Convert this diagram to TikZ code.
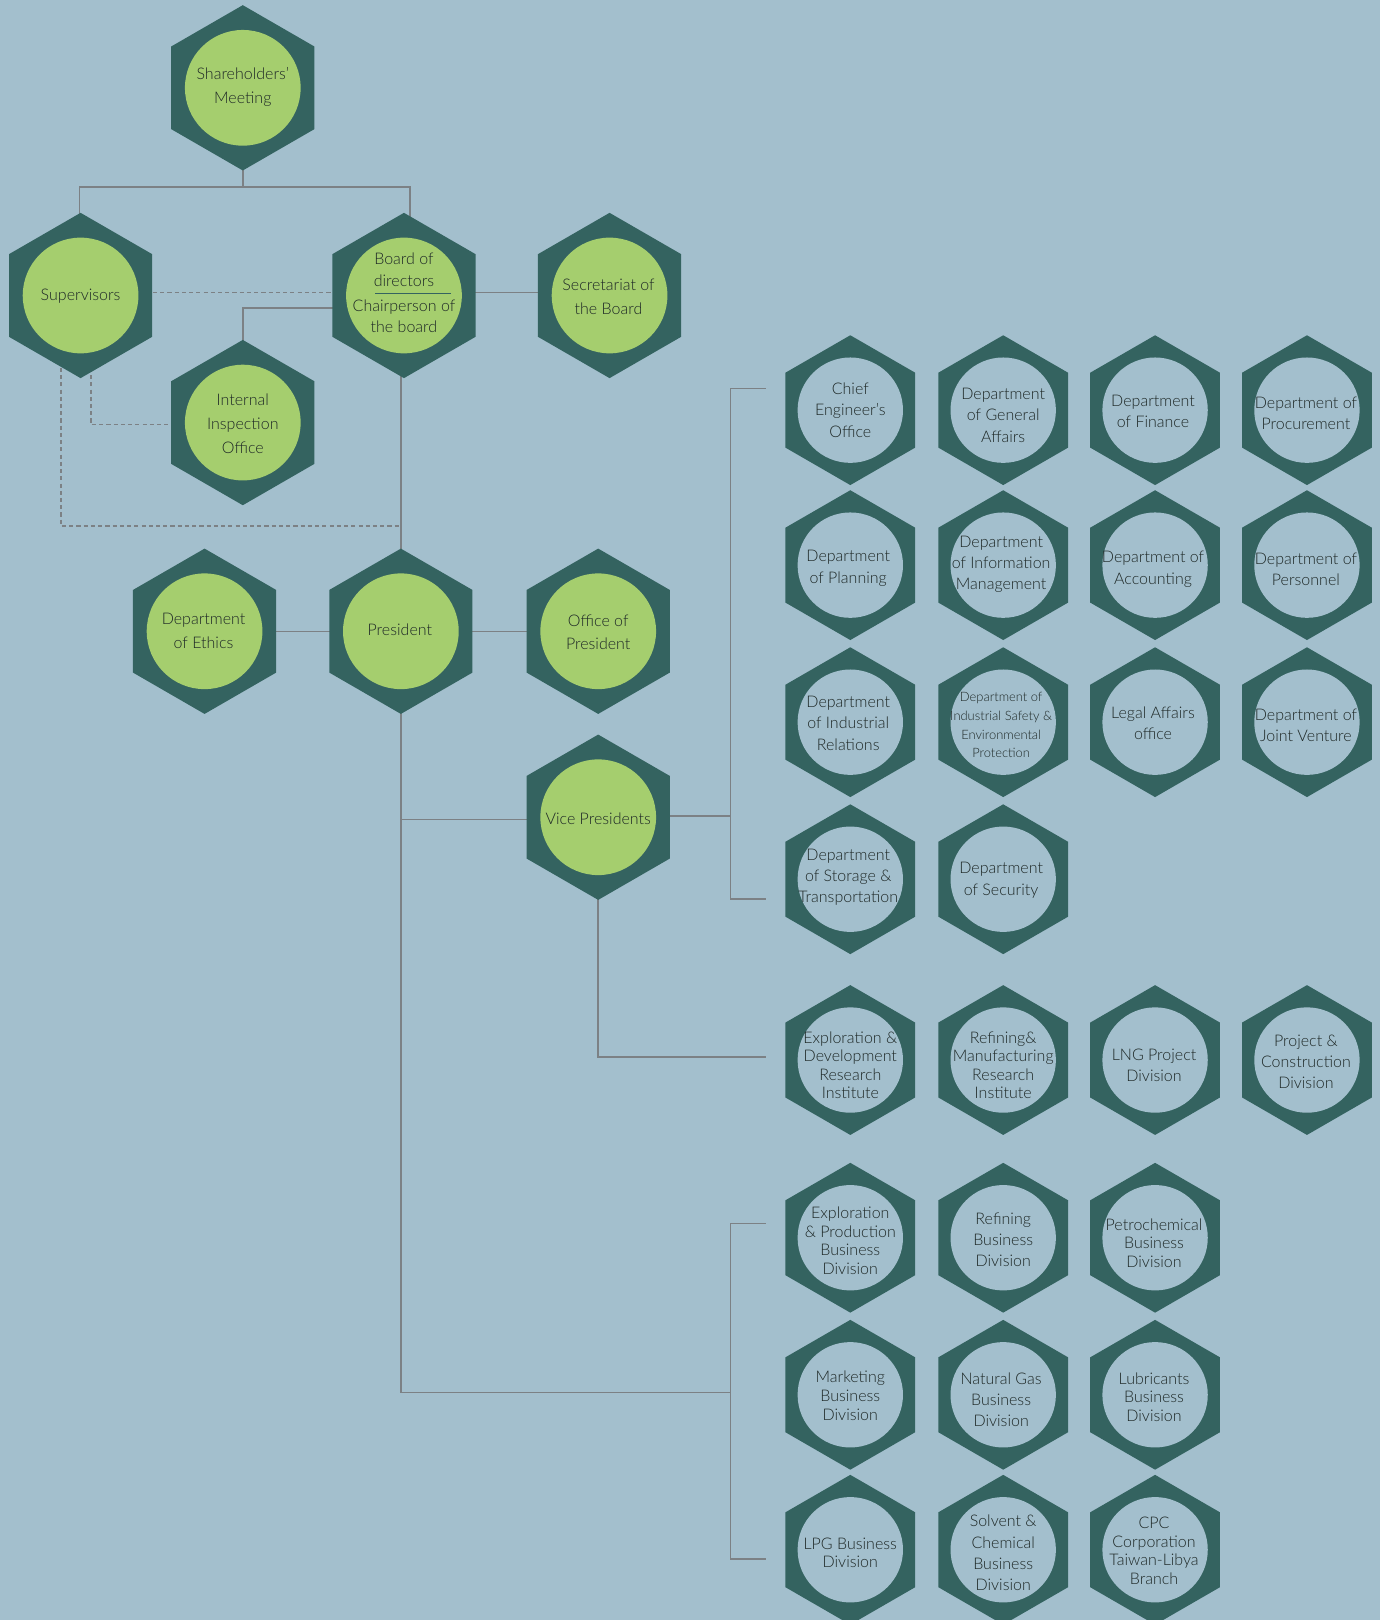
\documentclass[tikz,border=0pt]{standalone}
\usepackage{fontspec}
\setmainfont{Lato}[UprightFont={* Light}]
\usetikzlibrary{shapes.geometric,backgrounds}
\definecolor{bg}{HTML}{A3BFCD}
\definecolor{hexc}{HTML}{346360}
\definecolor{leaf}{HTML}{A5CE6E}
\definecolor{linec}{HTML}{7C8185}
\definecolor{txtc}{HTML}{1E2826}
\tikzset{
  bighex/.style={regular polygon, regular polygon sides=6, shape border rotate=30,
    minimum size=160pt, inner sep=0pt, outer sep=0pt, fill=hexc,
    path picture={\fill[leaf] (path picture bounding box.center) circle[radius=56pt];}},
  smallhex/.style={regular polygon, regular polygon sides=6, shape border rotate=30,
    minimum size=145pt, inner sep=0pt, outer sep=0pt, fill=hexc,
    path picture={\fill[bg] (path picture bounding box.center) circle[radius=51pt];}},
  gtxt/.style={align=center, inner sep=0pt, text=txtc, font=\fontsize{15.5}{23}\selectfont},
  rtxt/.style={align=center, inner sep=0pt, text=txtc, font=\fontsize{15.5}{20.5}\selectfont},
  rtight/.style={align=center, inner sep=0pt, text=txtc, font=\fontsize{15.5}{18}\selectfont},
  rsmall/.style={align=center, inner sep=0pt, text=txtc, font=\fontsize{12.5}{18}\selectfont},
  conn/.style={draw=linec, line width=1.4pt},
  dashconn/.style={draw=linec, line width=1.2pt, dash pattern=on 4pt off 3pt},
}
\newcommand{\ghex}[4]{\node[bighex] (#1) at (#2) {};\node[gtxt] (#1-t) at (#3) {#4};}
\newcommand{\rhex}[5]{\node[smallhex] (#1) at (#2) {};\node[#5] (#1-t) at (#3) {#4};}
\begin{document}
\begin{tikzpicture}[x=1pt,y=-1pt]
\begin{pgfonlayer}{background}
\fill[bg] (0,0) rectangle (1336,1568);
\end{pgfonlayer}
\useasboundingbox (0,0) rectangle (1336,1568);

% green hexagons
\ghex{sh}{235,85}{235,84}{Shareholders'\\Meeting}
\ghex{sup}{78,286}{78,287}{Supervisors}
\node[bighex] (board) at (391,286) {};
\node[gtxt, font=\fontsize{15.5}{21}\selectfont] (board-a) at (391,261) {Board of\\directors};
\node[gtxt, font=\fontsize{15.5}{21}\selectfont] (board-b) at (391,306) {Chairperson of\\the board};
\draw[hexc, line width=1.2pt] (363,284) -- (437,284);
\ghex{sec}{590,286}{589,287}{Secretariat of\\the Board}
\ghex{iio}{235,409}{235,410}{Internal\\Inspection\\Office}
\ghex{eth}{198,611}{197,611}{Department\\of Ethics}
\ghex{pres}{388,611}{387,610}{President}
\ghex{opres}{579,611}{579,612}{Office of\\President}
\ghex{vp}{579,791}{579,792}{Vice Presidents}

% departments
\rhex{d1}{823,397}{823,397}{Chief\\Engineer's\\Office}{rtxt}
\rhex{d2}{971,397}{971,402}{Department\\of General\\Affairs}{rtxt}
\rhex{d3}{1118,397}{1116,398}{Department\\of Finance}{rtxt}
\rhex{d4}{1265,397}{1264,400}{Department of\\Procurement}{rtxt}
\rhex{d5}{823,547}{821,550}{Department\\of Planning}{rtxt}
\rhex{d6}{971,547}{969,546}{Department\\of Information\\Management}{rtxt}
\rhex{d7}{1118,547}{1116,551}{Department of\\Accounting}{rtxt}
\rhex{d8}{1265,547}{1264,551}{Department of\\Personnel}{rtxt}
\rhex{d9}{823,699}{821,700}{Department\\of Industrial\\Relations}{rtxt}
\rhex{d10}{971,699}{969,702}{Department of\\Industrial Safety \&\\Environmental\\Protection}{rsmall}
\rhex{d11}{1118,699}{1116,700}{Legal Affairs\\office}{rtxt}
\rhex{d12}{1265,699}{1264,702}{Department of\\Joint Venture}{rtxt}
\rhex{d13}{823,851}{821,849}{Department\\of Storage \&\\Transportation}{rtxt}
\rhex{d14}{971,851}{969,852}{Department\\of Security}{rtxt}
% research / projects
\rhex{r1}{823,1026}{823,1031}{Exploration \&\\Development\\Research\\Institute}{rtight}
\rhex{r2}{971,1026}{971,1031}{Refining\&\\Manufacturing\\Research\\Institute}{rtight}
\rhex{r3}{1118,1026}{1117,1031}{LNG Project\\Division}{rtxt}
\rhex{r4}{1265,1026}{1264,1028}{Project \&\\Construction\\Division}{rtxt}
% business divisions
\rhex{b1}{823,1198}{823,1201}{Exploration\\\& Production\\Business\\Division}{rtight}
\rhex{b2}{971,1198}{971,1200}{Refining\\Business\\Division}{rtxt}
\rhex{b3}{1118,1198}{1117,1203}{Petrochemical\\Business\\Division}{rtight}
\rhex{b4}{823,1350}{823,1351}{Marketing\\Business\\Division}{rtight}
\rhex{b5}{971,1350}{969,1355}{Natural Gas\\Business\\Division}{rtxt}
\rhex{b6}{1118,1350}{1117,1352}{Lubricants\\Business\\Division}{rtight}
\rhex{b7}{823,1500}{823,1503}{LPG Business\\Division}{rtight}
\rhex{b8}{971,1500}{971,1503}{Solvent \&\\Chemical\\Business\\Division}{rtxt}
\rhex{b9}{1118,1500}{1117,1501}{CPC\\Corporation\\Taiwan-Libya\\Branch}{rtight}

% junction coordinates
\coordinate (j1) at (235,181);
\coordinate (j2) at (388,509);
\coordinate (k1) at (707,376);
\coordinate (k2) at (707,870);
\coordinate (t1) at (741,376);
\coordinate (t2) at (741,870);
\coordinate (t3) at (741,1023);
\coordinate (k4) at (707,1184);
\coordinate (k5) at (707,1509);
\coordinate (t4) at (741,1184);
\coordinate (t5) at (741,1509);
\coordinate (j3) at (707,1348);

\begin{pgfonlayer}{background}
\draw[conn] (sh.center) -- (j1);
\draw[conn] ([xshift=-1pt]sup.center) |- (j1) -| ([xshift=6pt]board.center);
\draw[dashconn] ([yshift=3pt]sup.center) -- ([yshift=3pt]board.center);
\draw[conn] ([yshift=3pt]board.center) -- ([yshift=3pt]sec.center);
\draw[conn] ([yshift=-12pt]board.center) -| (iio.center);
\draw[dashconn] ([xshift=10pt]sup.center) |- ([yshift=-2pt]iio.center);
\draw[dashconn] ([xshift=-19pt]sup.center) |- (j2);
\draw[conn] (pres.center |- board.center) -- (pres.center);
\draw[conn] (eth.center) -- (opres.center);
\draw[conn] (pres.center) |- (j3);
\draw[conn] ([yshift=-2pt]pres.center |- vp.center) -- ([yshift=-2pt]vp.center);
\draw[conn] ([yshift=1pt]vp.center) -- ([yshift=1pt]vp.center -| k1);
\draw[conn] (t1) -- (k1) -- (k2) -- (t2);
\draw[conn] (vp.center) |- (t3);
\draw[conn] (t4) -- (k4) -- (k5) -- (t5);
\end{pgfonlayer}
\end{tikzpicture}
\end{document}
